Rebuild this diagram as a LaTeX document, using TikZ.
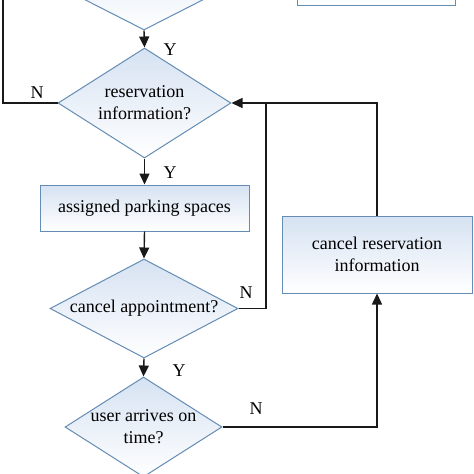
\documentclass[tikz,border=0pt]{standalone}
\usepackage{fontspec}
\setmainfont{Liberation Serif}
\usetikzlibrary{shapes.geometric,arrows.meta}
\definecolor{edgeblue}{RGB}{100,140,180}
\definecolor{fillblue}{RGB}{214,226,242}
\definecolor{lineblack}{RGB}{25,25,25}
\tikzset{
  decision/.style={diamond, draw=edgeblue, line width=1pt, top color=fillblue, bottom color=white,
    inner sep=-4pt, aspect=1.7, align=center, font=\fontsize{18}{22}\selectfont},
  process/.style={rectangle, draw=edgeblue, line width=1pt, top color=fillblue, bottom color=white,
    inner sep=0pt, align=center, font=\fontsize{18}{22}\selectfont},
  link/.style={draw=lineblack, line width=1.4pt},
  arr/.style={link, -{Triangle[length=11pt,width=10pt]}},
  yn/.style={font=\fontsize{18}{22}\selectfont, inner sep=0pt}
}
\begin{document}
\begin{tikzpicture}[x=1pt,y=-1pt]
  \useasboundingbox (0,0) rectangle (474,474);
  \clip (0,0) rectangle (474,474);
  % shapes
  \node[decision, minimum width=196pt, minimum height=100pt] (start) at (144,-20) {};
  \node[process, minimum width=158pt, minimum height=60pt] (topbox) at (376,-25) {};
  \node[decision, minimum width=173pt, minimum height=110pt] (res) at (144.5,103) {reservation\\information?};
  \node[process, minimum width=209pt, minimum height=46pt] (assign) at (144.5,208) {assigned parking spaces};
  \node[decision, minimum width=188pt, minimum height=99pt] (appt) at (144,308.5) {cancel appointment?};
  \node[decision, minimum width=157pt, minimum height=100pt] (arrive) at (143.5,427) {user arrives on\\time?};
  \node[process, minimum width=190pt, minimum height=77pt] (cancel) at (377,254.5) {cancel reservation\\information};
  \coordinate (upleft) at (3,-10);
  \coordinate (join) at (266,103);
  % connectors
  \draw[arr] (start.south) -- (res.north);
  \draw[link] (res.west) -| (upleft);
  \draw[arr] (res.south) -- (assign.north);
  \draw[arr] (assign.south) -- (appt.north);
  \draw[arr] (appt.south) -- (arrive.north);
  \draw[link] (appt.east) -| (join);
  \draw[arr] (cancel.north) |- (res.east);
  \draw[arr] (arrive.east) -| (cancel.south);
  % labels
  \node[yn] (n1) at (37,93) {N};
  \node[yn] (y1) at (170,50) {Y};
  \node[yn] (y2) at (170,173) {Y};
  \node[yn] (n2) at (246,293) {N};
  \node[yn] (y3) at (179,371) {Y};
  \node[yn] (n3) at (256,409) {N};
\end{tikzpicture}
\end{document}
